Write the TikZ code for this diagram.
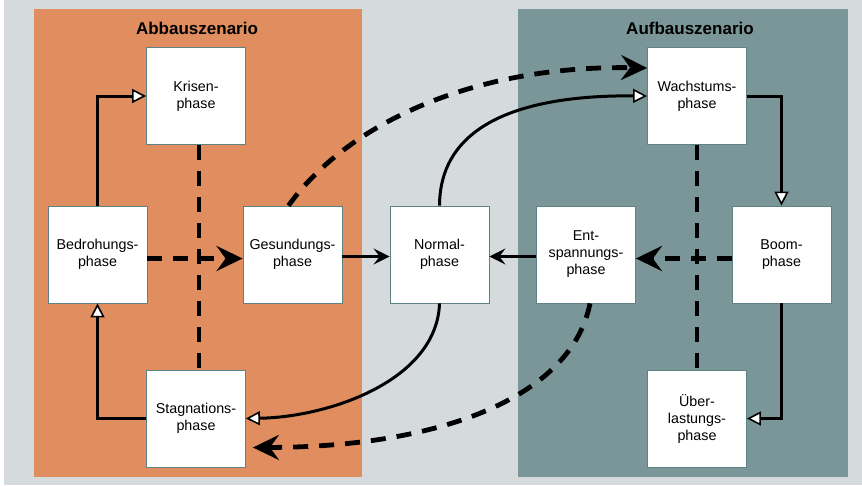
\documentclass[tikz,border=0pt]{standalone}
\usepackage{fontspec}
\setmainfont{Liberation Sans}
\usetikzlibrary{arrows.meta}
\definecolor{abbau}{RGB}{224,142,96}
\definecolor{aufbau}{RGB}{122,150,152}
\definecolor{grund}{RGB}{213,218,221}
\definecolor{rand}{RGB}{95,130,133}
\tikzset{
  phasebox/.style={draw=rand, line width=0.8pt, fill=white, minimum width=99pt,
    minimum height=97pt, inner sep=0pt, align=center, font=\fontsize{14.3}{17}\selectfont},
  titel/.style={font=\bfseries\fontsize{17}{20}\selectfont},
  voll/.style={line width=3pt, -{Triangle[open,fill=white,length=14pt,width=14pt,line width=1.6pt]}},
  duenn/.style={line width=2.4pt, -{Stealth[length=16pt,width=16pt,inset=6pt]}},
  gestr/.style={line width=4.8pt, dash pattern=on 15pt off 11pt},
  spitz/.style={-{Stealth[length=26pt,width=25pt,inset=9pt]}}
}
\begin{document}
\begin{tikzpicture}[x=1pt,y=-1pt]
\useasboundingbox (0,0) rectangle (862,485);
\fill[grund] (4,0) rectangle (862,485);
\fill[abbau] (34,9) rectangle (362,477);
\fill[aufbau] (518,9) rectangle (848,477);
\node[titel] (T1) at (197,28) {Abbauszenario};
\node[titel] (T2) at (690,28) {Aufbauszenario};
% Abbau
\node[phasebox] (K) at (196,96) {Krisen-\\phase};
\node[phasebox] (B) at (97.5,254.5) {Bedrohungs-\\phase};
\node[phasebox] (G) at (292.5,254.5) {Gesundungs-\\phase};
\node[phasebox] (S) at (196,418.5) {Stagnations-\\phase};
\node[phasebox] (N) at (439.5,254.5) {Normal-\\phase};
% Aufbau
\node[phasebox] (W) at (697,96) {Wachstums-\\phase};
\node[phasebox] (E) at (586,254.5) {Ent-\\spannungs-\\phase};
\node[phasebox] (O) at (781.5,254.5) {Boom-\\phase};
\node[phasebox] (U) at (697,418.5) {Über-\\lastungs-\\phase};
% Pfeile links
\draw[voll] (B.north) |- (K.west);
\draw[voll] (S.west) -| (B.south);
\draw[gestr] ([xshift=3pt]K.south) -- ([xshift=3pt]S.north);
\draw[gestr,spitz] ([yshift=-4pt]B.east) -- ([yshift=-4pt]G.west);
\draw[duenn] ([yshift=-2pt]G.east) -- ([yshift=-2pt]N.west);
% Pfeile rechts
\draw[voll] (W.east) -| (O.north);
\draw[voll] (O.south) |- (U.east);
\draw[gestr] (W.south) -- (U.north);
\draw[gestr,spitz] ([yshift=-4pt]O.west) -- ([yshift=-4pt]E.east);
\draw[duenn] ([yshift=-2pt]E.west) -- ([yshift=-2pt]N.east);
% Boegen
\draw[gestr,spitz] ([xshift=-4pt]G.north) .. controls (350,120) and (480,65) .. ([yshift=28pt]W.west);
\draw[voll] (N.north) .. controls (440,120) and (530,95) .. (W.west);
\draw[voll] (N.south) .. controls (437,380) and (330,417) .. (S.east);
\draw[gestr,spitz] ([xshift=4pt]E.south) .. controls (572,395) and (445,447) .. ([yshift=-29pt,xshift=7pt]S.east);
\end{tikzpicture}
\end{document}
